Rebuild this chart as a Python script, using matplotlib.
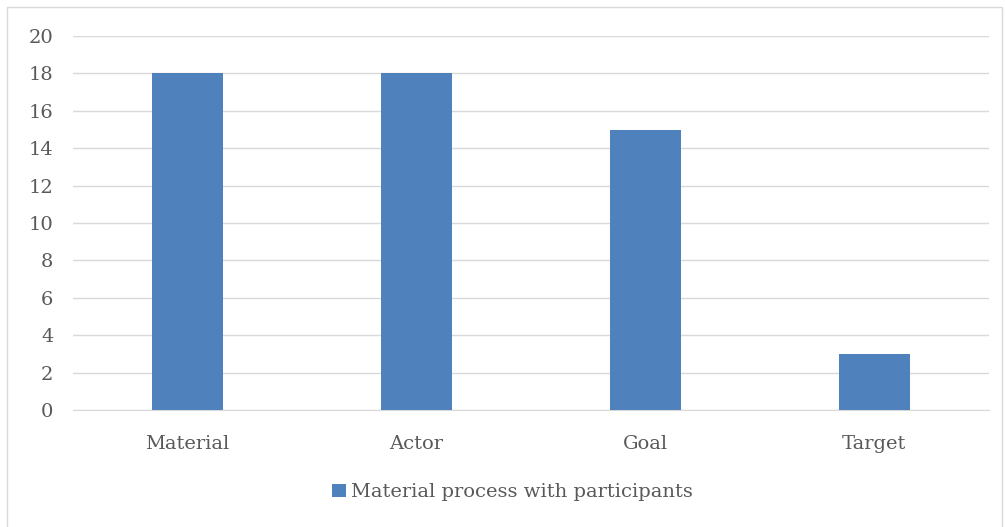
import matplotlib.pyplot as plt
from matplotlib.patches import Rectangle

categories = ['Material', 'Actor', 'Goal', 'Target']
values = [18, 18, 15, 3]
series_name = 'Material process with participants'

plt.rcParams['font.family'] = ['DejaVu Serif']

fig = plt.figure(figsize=(10.05, 5.27), dpi=100)
ax = fig.add_axes([0.0726, 0.222, 0.9114, 0.7095])

x = range(len(categories))
ax.bar(x, values, width=0.31, color='#4F81BD', label=series_name, zorder=3)

ax.set_xlim(-0.5, len(categories) - 0.5)
ax.set_ylim(0, 20)
ax.set_yticks(range(0, 21, 2))
ax.set_xticks(list(x))
ax.set_xticklabels(categories)
ax.tick_params(axis='both', length=0, labelsize=14, labelcolor='#595959')
ax.tick_params(axis='x', pad=18)
ax.tick_params(axis='y', pad=14)
ax.grid(axis='y', color='#D9D9D9', linewidth=1, zorder=0)
for s in ['top', 'right', 'left']:
    ax.spines[s].set_visible(False)
ax.spines['bottom'].set_color('#D9D9D9')

leg = fig.legend(loc='center', bbox_to_anchor=(0.51, 0.066), frameon=False,
                 fontsize=14, handlelength=0.7, handleheight=0.7, handletextpad=0.3)
for t in leg.get_texts():
    t.set_color('#595959')

fig.patches.append(Rectangle((0.007, -0.01), 0.99, 0.997, transform=fig.transFigure,
                             fill=False, edgecolor='#D9D9D9', linewidth=1))

fig.savefig('out.png', dpi=100)
